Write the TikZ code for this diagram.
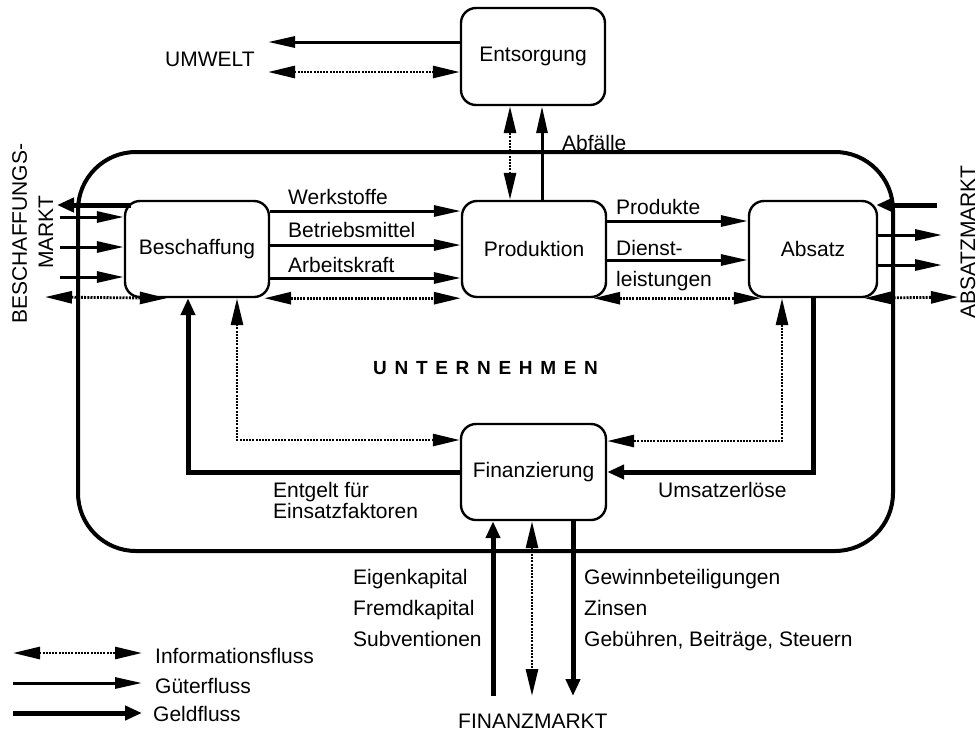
\documentclass[tikz,border=0pt]{standalone}
\usepackage{fontspec}
\setmainfont{Liberation Sans}
\usetikzlibrary{arrows.meta,calc}

% spacing between the letters of the spaced-out heading
\newcommand\lgap{\hspace{7.7pt}}

\begin{document}
\begin{tikzpicture}[x=1pt,y=-1pt,
  every node/.style={font=\fontsize{21}{25}\selectfont, inner sep=0pt},
  unit/.style={draw, line width=2.4pt, rounded corners=15pt, fill=white,
    minimum width=144pt, minimum height=96pt, inner sep=0pt},
  goods/.style={line width=3pt, -{Triangle[length=27pt,width=11pt]}},
  money/.style={line width=5pt, -{Triangle[length=17pt,width=14pt]}},
  info/.style={line width=2.8pt, dash pattern=on 2pt off 1.2pt,
    {Triangle[length=27pt,width=12pt]}-{Triangle[length=27pt,width=12pt]}},
  lbl/.style={anchor=base west},
  vlbl/.style={anchor=base, rotate=90},
]
\useasboundingbox (0,0) rectangle (978,732);

% the enterprise frame
\draw[line width=4pt, rounded corners=58pt] (78,152) rectangle (893,551);

% functional units
\node[unit, minimum height=97pt] (ent) at (533,56.5) {Entsorgung};
\node[unit] (bes) at (197,249) {Beschaffung};
\node[unit] (pro) at (534,249) {Produktion};
\node[unit, minimum width=128pt] (abs) at (813,249) {Absatz};
\node[unit, minimum width=145pt] (fin) at (533.5,472) {Finanzierung};

% disposal
\coordinate (umA) at (268,42);
\coordinate (umB) at (268,72);
\draw[goods] (ent.west |- umA) -- (umA);
\draw[info] (umB) -- (ent.west |- umB);
\coordinate (vI) at (510,0);
\coordinate (vG) at (542,0);
\draw[info] (pro.north -| vI) -- (ent.south -| vI);
\draw[goods] (pro.north -| vG) -- (ent.south -| vG);

% procurement -> production
\coordinate (w1) at (0,211);
\coordinate (w2) at (0,245);
\coordinate (w3) at (0,278);
\draw[goods] (bes.east |- w1) -- (pro.west |- w1);
\draw[goods] (bes.east |- w2) -- (pro.west |- w2);
\draw[goods] (bes.east |- w3) -- (pro.west |- w3);
\draw[info] ($(bes.south east)+(-6,0)$) -- (pro.south west);

% production -> sales
\coordinate (p1) at (0,221);
\coordinate (p2) at (0,260);
\draw[goods] (pro.east |- p1) -- (abs.west |- p1);
\draw[goods] (pro.east |- p2) -- (abs.west |- p2);
\draw[info] ($(pro.south east)+(-14,0)$) -- ($(abs.south west)+(13,0)$);

% procurement market
\coordinate (bmOut) at (57,205);
\coordinate (bm1) at (60,217);
\coordinate (bm2) at (60,247);
\coordinate (bm3) at (60,277);
\coordinate (bmInfo) at (45,297);
\draw[money] ($(bes.west |- bmOut)+(7,0)$) -- (bmOut);
\draw[goods] (bm1) -- (bes.west |- bm1);
\draw[goods] (bm2) -- (bes.west |- bm2);
\draw[goods] (bm3) -- (bes.west |- bm3);
\draw[info] (bmInfo) -- ($(bes.south west)+(43,0)$);

% sales market
\coordinate (amIn) at (937,205);
\coordinate (am1) at (942,235);
\coordinate (am2) at (942,265);
\coordinate (amInfo) at (958,297);
\draw[money] (amIn) -- ($(abs.east |- amIn)+(-2,0)$);
\draw[goods] (abs.east |- am1) -- (am1);
\draw[goods] (abs.east |- am2) -- (am2);
\draw[info] ($(abs.south east)+(-14,0)$) -- (amInfo);

% finance inside the enterprise
\coordinate (kA) at (188,0);
\coordinate (kB) at (237,440);
\coordinate (kC) at (782,441);
\coordinate (kD) at (813,0);
\draw[money] (fin.west) -| (bes.south -| kA);
\draw[info] (fin.west |- kB) -| (bes.south -| kB);
\draw[info] (abs.south -| kC) |- (fin.east |- kC);
\draw[money] (abs.south -| kD) |- (fin.east);

% financial market
\coordinate (fmA) at (493,696);
\coordinate (fmB) at (532,696);
\coordinate (fmC) at (573,696);
\draw[money] (fmA) -- (fin.south -| fmA);
\draw[info] (fin.south -| fmB) -- (fmB);
\draw[money] (fin.south -| fmC) -- (fmC);

% legend
\coordinate (lgI0) at (13,653);
\coordinate (lgI1) at (142,653);
\coordinate (lgG0) at (13,683);
\coordinate (lgG1) at (142,683);
\coordinate (lgM0) at (13,713);
\coordinate (lgM1) at (142,713);
\draw[info] (lgI0) -- (lgI1);
\draw[goods] (lgG0) -- (lgG1);
\draw[money] (lgM0) -- (lgM1);
\node[lbl] (tInfo) at (155,663) {Informationsfluss};
\node[lbl] (tGut) at (155,693) {Güterfluss};
\node[lbl] (tGeld) at (153,721) {Geldfluss};

% labels
\node[lbl] (tUm) at (165,66) {UMWELT};
\node[lbl] (tAbf) at (562,150) {Abfälle};
\node[lbl] (tWs) at (288,204) {Werkstoffe};
\node[lbl] (tBm) at (288,237) {Betriebsmittel};
\node[lbl] (tAk) at (288,272) {Arbeitskraft};
\node[lbl] (tPr) at (616,214) {Produkte};
\node[lbl] (tDl1) at (616,255) {Dienst-};
\node[lbl] (tDl2) at (616,286) {leistungen};
\node[lbl] (tUn) at (373,374) {\bfseries\fontsize{19}{23}\selectfont
  U\lgap N\lgap T\lgap E\lgap R\lgap N\lgap E\lgap H\lgap M\lgap E\lgap N};
\node[lbl] (tEf1) at (273,497) {Entgelt für};
\node[lbl] (tEf2) at (273,518) {Einsatzfaktoren};
\node[lbl] (tUe) at (658,497) {Umsatzerlöse};
\node[lbl] (tEk) at (353,584) {Eigenkapital};
\node[lbl] (tFk) at (353,615) {Fremdkapital};
\node[lbl] (tSv) at (353,646) {Subventionen};
\node[lbl] (tGb) at (584,584) {Gewinnbeteiligungen};
\node[lbl] (tZi) at (584,615) {Zinsen};
\node[lbl] (tSt) at (584,646) {Gebühren, Beiträge, Steuern};
\node[lbl] (tFm) at (458,728) {FINANZMARKT};
\node[vlbl] (tBm1) at (27,233.5) {BESCHAFFUNGS-};
\node[vlbl] (tBm2) at (53,232) {MARKT};
\node[vlbl] (tAm) at (975,242) {ABSATZMARKT};
\end{tikzpicture}
\end{document}
